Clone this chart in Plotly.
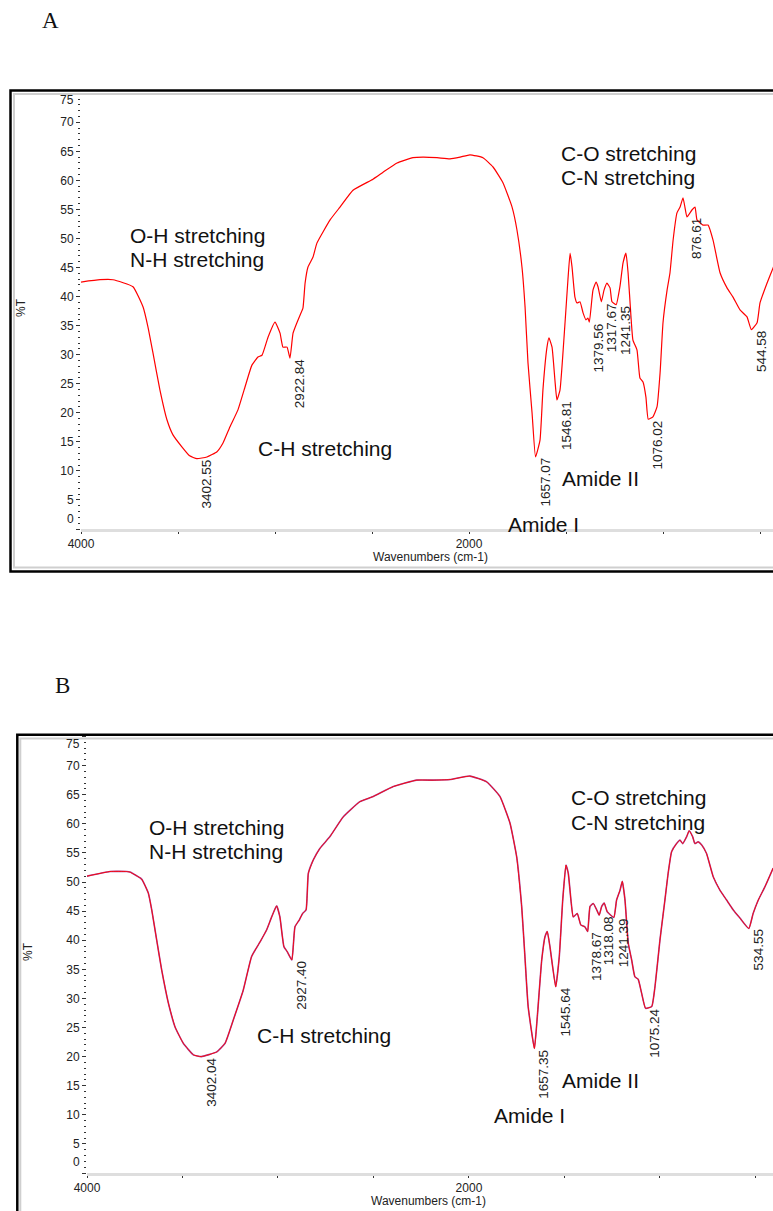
import numpy as np
import plotly.graph_objects as go

# ---------------- Spectrum A ----------------
a_wavenumber = [4000, 3902, 3835, 3732, 3680, 3655, 3629, 3593, 3557, 3526, 3479, 3440,
                3402.55, 3351, 3299, 3268, 3232, 3191, 3155, 3119, 3088, 3067, 3036, 3000,
                2974, 2959, 2938, 2922.84, 2907, 2887, 2871, 2856, 2845, 2830, 2804, 2784,
                2716, 2665, 2598, 2495, 2443, 2371, 2289, 2237, 2165, 2098, 2046, 1995,
                1928, 1876, 1825, 1778, 1753, 1727, 1711, 1696, 1675, 1657.07, 1634, 1619,
                1598, 1588, 1572, 1557, 1546.81, 1531, 1505, 1490, 1479, 1469, 1454, 1443,
                1428, 1412, 1397, 1387, 1379.56, 1361, 1345, 1335, 1317.67, 1304, 1289,
                1273, 1263, 1241.35, 1222, 1206, 1191, 1180, 1165, 1155, 1134, 1119, 1103,
                1088, 1076.02, 1052, 1031, 1015, 1000, 979, 964, 948, 928, 912, 897, 887,
                876.61, 851, 835, 825, 809, 794, 768, 742, 706, 670, 639, 603, 567, 544.58,
                515, 500, 464, 433, 420]
a_transmittance = [42.5, 42.9, 42.9, 41.7, 38.2, 34.8, 30.3, 23.9, 18.8, 16.2, 14.1, 12.6,
                   12.1, 12.4, 13.3, 14.8, 17.6, 20.5, 24.4, 28.2, 29.6, 29.9, 33.0, 35.6,
                   33.7, 31.3, 31.3, 29.4, 33.7, 35.5, 36.8, 38.0, 42.3, 45.1, 46.8, 49.2,
                   53.2, 55.4, 58.3, 60.2, 61.4, 63.0, 63.9, 64.0, 63.9, 63.7, 64.0, 64.4,
                   63.9, 62.3, 59.6, 55.4, 51.5, 45.1, 38.2, 28.6, 20.0, 12.4, 15.3, 23.9,
                   31.3, 32.9, 31.3, 25.6, 22.2, 23.9, 35.5, 42.9, 47.5, 45.1, 39.9, 38.9,
                   39.1, 37.2, 36.0, 36.3, 35.6, 41.1, 42.5, 41.7, 39.1, 41.1, 42.3,
                   41.5, 39.1, 38.6, 41.7, 45.8, 47.5, 44.1, 36.5, 32.5, 30.8, 26.0, 25.3,
                   22.7, 18.9, 19.3, 21.0, 26.9, 35.5, 41.1, 44.1, 49.7, 54.4, 55.4, 57.0, 55.4,
                   53.7, 54.9, 55.4, 53.2, 52.7, 52.3, 52.3, 49.7, 44.1, 41.5, 39.9, 37.7, 36.5, 34.3,
                   35.5, 38.9, 42.3, 44.9, 46.0]
a_peaks = [3402.55, 2922.84, 1657.07, 1546.81, 1379.56, 1317.67, 1241.35, 1076.02, 876.61, 544.58]
a_peak_text = ["3402.55", "2922.84", "1657.07", "1546.81", "1379.56", "1317.67", "1241.35",
               "1076.02", "876.61", "544.58"]

# ---------------- Spectrum B ----------------
b_wavenumber = [4000, 3880, 3792, 3775, 3714, 3679, 3661, 3635, 3609, 3574, 3539, 3496, 3443,
                3402.04, 3321, 3277, 3234, 3182, 3138, 3094, 3059, 3033, 3007, 2990, 2969,
                2951, 2927.40, 2911, 2888, 2871, 2853, 2841, 2815, 2780, 2728, 2658, 2571,
                2501, 2396, 2274, 2187, 2099, 1995, 1907, 1838, 1785, 1750, 1724, 1707, 1690,
                1657.35, 1642, 1619, 1602, 1590, 1576, 1545.64, 1527, 1509, 1492, 1480, 1466,
                1454, 1433, 1414, 1393, 1378.67, 1366, 1349, 1331, 1318.08, 1305, 1292, 1276,
                1241.39, 1227, 1209, 1197, 1183, 1166, 1148, 1131, 1114, 1096, 1075.24, 1043,
                1026, 1000, 974, 957, 939, 913, 895, 881, 860, 847, 829, 817, 800, 782, 756,
                721, 686, 651, 616, 581, 534.55, 512, 485, 450, 407]
b_transmittance = [51.0, 51.8, 51.8, 51.7, 50.5, 48.1, 45.2, 40.0, 34.9, 29.2, 25.1, 22.3, 20.3,
                   20.0, 20.8, 22.3, 26.3, 31.4, 37.2, 39.7, 41.8, 44.0, 45.9, 44.0, 38.9,
                   38.0, 36.6, 42.3, 43.5, 44.6, 45.2, 51.5, 53.8, 55.8, 57.8, 61.2, 63.8,
                   64.7, 66.4, 67.5, 67.5, 67.6, 68.2, 67.2, 64.7, 60.1, 54.3, 45.8, 37.2, 28.6,
                   21.4, 26.9, 36.6, 40.6, 41.5, 38.9, 32.0, 37.2, 46.9, 52.9, 51.5, 46.9,
                   44.0, 44.6, 42.6, 42.3, 41.5, 45.8, 46.3, 45.2, 44.3, 45.8, 46.4, 44.9,
                   43.9, 46.9, 48.6, 50.1, 46.9, 39.5, 36.6, 33.7, 33.3, 30.9, 28.3, 28.6,
                   32.0, 40.0, 46.9, 51.5, 55.2, 56.6, 57.2, 56.6, 57.8, 58.8, 57.8, 56.6, 56.9, 56.4, 54.9,
                   50.9, 48.6, 46.9, 45.2, 43.8, 42.0, 44.6, 46.9, 49.2, 52.4]
b_peaks = [3402.04, 2927.40, 1657.35, 1545.64, 1378.67, 1318.08, 1241.39, 1075.24, 534.55]
b_peak_text = ["3402.04", "2927.40", "1657.35", "1545.64", "1378.67", "1318.08", "1241.39",
               "1075.24", "534.55"]

x_tickvals = [4000, 3500, 3000, 2500, 2000, 1500, 1000, 500]
x_ticktext = ["4000", "", "", "", "2000", "", "", ""]
y_tickvals = list(range(0, 76, 5))

W, H = 773, 1211
FONT = "Arial, Liberation Sans, sans-serif"
SERIF = "Times New Roman, Liberation Serif, serif"


def px(x):
    return x / W


def py(y):
    return 1 - y / H


fig = go.Figure()

fig.add_trace(go.Scatter(x=a_wavenumber, y=a_transmittance, mode="lines",
                         line=dict(color="#ff0000", width=1.2, shape="spline", smoothing=0.4),
                         xaxis="x", yaxis="y", hoverinfo="skip"))
fig.add_trace(go.Scatter(x=b_wavenumber, y=b_transmittance, mode="lines",
                         line=dict(color="#a44aa0", width=1.6, shape="spline", smoothing=0.4),
                         xaxis="x2", yaxis="y2", hoverinfo="skip"))
fig.add_trace(go.Scatter(x=b_wavenumber, y=b_transmittance, mode="lines",
                         line=dict(color="#ff0000", width=0.9, shape="spline", smoothing=0.4),
                         xaxis="x2", yaxis="y2", hoverinfo="skip"))


def xaxis_cfg(domain, rng):
    return dict(domain=domain, range=rng, showgrid=False, zeroline=False, automargin=False,
                showline=True, linecolor="#dedede", linewidth=2.5,
                ticks="outside", ticklen=2, tickwidth=1, tickcolor="#333",
                tickmode="array", tickvals=x_tickvals, ticktext=x_ticktext,
                tickfont=dict(family=FONT, size=12, color="#222"))


def yaxis_cfg(domain, anchor):
    return dict(domain=domain, range=[0, 75], anchor=anchor, showgrid=False, zeroline=False,
                automargin=False,
                showline=False, ticks="outside", ticklen=4, tickwidth=1, tickcolor="#333",
                tickmode="array", tickvals=y_tickvals,
                ticktext=[("" if v in (0, 75) else str(v)) for v in y_tickvals],
                tickfont=dict(family=FONT, size=12, color="#222"),
                minor=dict(tickmode="linear", tick0=0, dtick=1, ticks="outside",
                           ticklen=2, tickwidth=1, tickcolor="#333"))


# pixel placement of each panel's plotting area
a_left, a_top, a_bottom = 81, 93.2, 529
b_left, b_top, b_bottom = 87, 736.5, 1173

fig.update_layout(
    width=W, height=H, margin=dict(l=0, r=0, t=0, b=0, autoexpand=False),
    paper_bgcolor="white", plot_bgcolor="white", showlegend=False,
    xaxis=dict(**xaxis_cfg([px(a_left), 1], [4000, 433]), anchor="y"),
    yaxis=yaxis_cfg([py(a_bottom), py(a_top)], "x"),
    xaxis2=dict(**xaxis_cfg([px(b_left), 1], [4000, 408]), anchor="y2"),
    yaxis2=yaxis_cfg([py(b_bottom), py(b_top)], "x2"),
)

# panel frames: thick black outer border with thin grey inner border
shapes = []
for (x0, y0, y1, gx0, gy0, gy1) in [(10.5, 90.5, 571.5, 14, 94, 567.5),
                                     (17.3, 734.7, 1240, 20.3, 738.5, 1236)]:
    shapes.append(dict(type="rect", xref="paper", yref="paper", x0=px(x0), x1=1.1,
                       y0=py(y1), y1=py(y0), line=dict(color="black", width=2.5)))
    shapes.append(dict(type="rect", xref="paper", yref="paper", x0=px(gx0), x1=1.1,
                       y0=py(gy1), y1=py(gy0), line=dict(color="#cfcfcf", width=2)))
fig.update_layout(shapes=shapes)

ann = []


def text(x, y, s, size=21, **kw):
    d = dict(xref="paper", yref="paper", x=px(x), y=py(y), text=s, showarrow=False,
             xanchor="left", yanchor="middle", font=dict(family=FONT, size=size, color="#111"))
    d.update(kw)
    ann.append(d)


# panel letters
text(50, 20, "A", xanchor="center", font=dict(family=SERIF, size=23, color="#111"))
text(62, 685, "B", xanchor="center", font=dict(family=SERIF, size=23, color="#111"))

# axis titles
for (xc, yc, xt, yt) in [(21, 308, 430, 557), (28, 951, 429, 1201)]:
    text(xc, yc, "%T", xanchor="center", textangle=-90,
         font=dict(family=FONT, size=12, color="#222"))
    text(xt, yt, "Wavenumbers (cm-1)", xanchor="center",
         font=dict(family=FONT, size=12, color="#222"))

# end-of-scale y labels sit just inside the axis range
for (ax, yv0, yv75) in [("y", 1.67, 73.8), ("y2", 1.84, 73.7)]:
    xr = "x domain" if ax == "y" else "x2 domain"
    for v, s in [(yv0, "0"), (yv75, "75")]:
        ann.append(dict(xref=xr, yref=ax, x=0, y=v, xshift=-5, text=s, showarrow=False,
                        xanchor="right", yanchor="middle",
                        font=dict(family=FONT, size=12, color="#222")))

# band assignments
for (x, y, s) in [(128, 235, "O-H stretching"), (128, 260, "N-H stretching"),
                  (256, 448, "C-H stretching"), (559, 153, "C-O stretching"),
                  (559, 178, "C-N stretching"), (560, 478, "Amide II"), (506, 525, "Amide I"),
                  (147, 827, "O-H stretching"), (147, 851, "N-H stretching"),
                  (255, 1035, "C-H stretching"), (569, 797, "C-O stretching"),
                  (569, 822, "C-N stretching"), (560, 1080, "Amide II"), (492, 1115, "Amide I")]:
    text(x, y, s)

# peak labels placed at the curve minima
for (wn, t_, pk, lbl, xr, yr) in [(a_wavenumber, a_transmittance, a_peaks, a_peak_text, "x", "y"),
                                  (b_wavenumber, b_transmittance, b_peaks, b_peak_text, "x2", "y2")]:
    xs = np.array(wn)[::-1]
    ys = np.array(t_)[::-1]
    for p, s in zip(pk, lbl):
        yv = float(np.interp(p, xs, ys))
        ann.append(dict(xref=xr, yref=yr, x=p, y=yv, text=s, showarrow=False, textangle=-90,
                        xanchor="left", yanchor="top", xshift=0, yshift=1,
                        font=dict(family=FONT, size=13.5, color="#222")))

fig.update_layout(annotations=ann)
fig.write_html("out.html")
